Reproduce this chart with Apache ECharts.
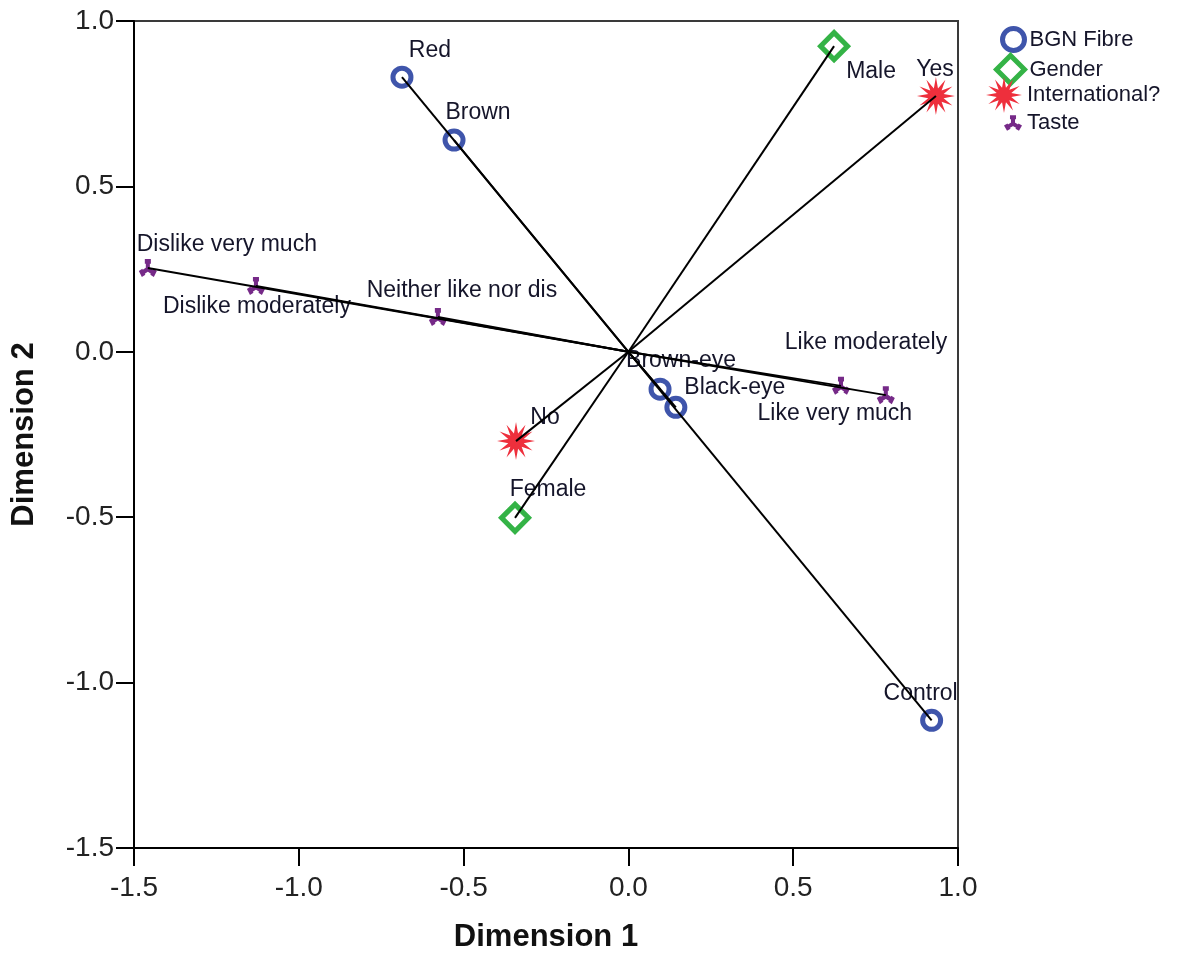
<!DOCTYPE html>
<html>
<head>
<meta charset="utf-8">
<script src="https://cdn.jsdelivr.net/npm/echarts@6/dist/echarts.min.js"></script>
<style>
  html, body { margin: 0; padding: 0; background: #fff; }
  #chart { width: 1183px; height: 959px; }
</style>
</head>
<body>
<div id="chart"></div>
<script>
// Category quantifications (Dimension 1, Dimension 2) per variable
const bgnNames = ['Red', 'Brown', 'Brown-eye', 'Black-eye', 'Control'];
const bgnDim1 = [-0.687, -0.529, 0.096, 0.144, 0.920];
const bgnDim2 = [0.830, 0.640, -0.113, -0.168, -1.114];

const genderNames = ['Male', 'Female'];
const genderDim1 = [0.624, -0.344];
const genderDim2 = [0.924, -0.502];

const intlNames = ['Yes', 'No'];
const intlDim1 = [0.933, -0.341];
const intlDim2 = [0.773, -0.270];

const tasteNames = ['Dislike very much', 'Dislike moderately', 'Neither like nor dis', 'Like moderately', 'Like very much'];
const tasteDim1 = [-1.458, -1.130, -0.578, 0.645, 0.781];
const tasteDim2 = [0.253, 0.199, 0.105, -0.103, -0.131];

const seriesNames = ['BGN Fibre', 'Gender', 'International?', 'Taste'];
const axisTicks = [-1.5, -1.0, -0.5, 0.0, 0.5, 1.0];

// Label placement relative to each marker centre (px)
const labelOffsets = {
  'Red': [28, -27], 'Brown': [24, -27], 'Brown-eye': [21, -29], 'Black-eye': [59, -20],
  'Control': [-11, -27], 'Male': [37, 26], 'Female': [33, -28], 'Yes': [-1, -26], 'No': [29, -23],
  'Dislike very much': [79, -23], 'Dislike moderately': [1, 21], 'Neither like nor dis': [24, -26],
  'Like moderately': [25, -43], 'Like very much': [-51, 19]
};

const FONT = "'Liberation Sans', Arial, sans-serif";
const TEXT = '#15152a';

// 12-point star path
function starPath(points, inner) {
  let d = '';
  for (let i = 0; i < points * 2; i++) {
    const r = i % 2 === 0 ? 50 : 50 * inner;
    const a = -Math.PI / 2 + i * Math.PI / points;
    const x = (50 + r * Math.cos(a)).toFixed(2);
    const y = (50 + r * Math.sin(a)).toFixed(2);
    d += (i === 0 ? 'M' : 'L') + x + ' ' + y + ' ';
  }
  return 'path://' + d + 'Z';
}

// Three-armed marker: stem up, two feet down-left / down-right, each with a cap
function rectPoly(cx, cy, ang, len0, len1, half) {
  const ux = Math.cos(ang), uy = Math.sin(ang);
  const px = -uy, py = ux;
  const pts = [
    [cx + ux * len0 + px * half, cy + uy * len0 + py * half],
    [cx + ux * len1 + px * half, cy + uy * len1 + py * half],
    [cx + ux * len1 - px * half, cy + uy * len1 - py * half],
    [cx + ux * len0 - px * half, cy + uy * len0 - py * half]
  ];
  return 'M' + pts.map(p => p[0].toFixed(2) + ' ' + p[1].toFixed(2)).join(' L') + ' Z ';
}
function tastePath() {
  let d = '';
  const angs = [-Math.PI / 2, Math.PI * 5 / 6, Math.PI / 6];
  angs.forEach(a => {
    d += rectPoly(50, 55, a, 0, 40, 10);
    const tx = 50 + Math.cos(a) * 33, ty = 55 + Math.sin(a) * 33;
    d += rectPoly(tx, ty, a + Math.PI / 2, -15, 15, 10);
  });
  return 'path://' + d;
}

const STAR = starPath(12, 0.42);
const TASTE = tastePath();

function points(names, d1, d2) {
  return names.map((n, i) => ({
    name: n,
    value: [d1[i], d2[i]],
    label: { offset: labelOffsets[n] || [0, -24] }
  }));
}
function rays(names, d1, d2) {
  return names.map((n, i) => ({ coords: [[0, 0], [d1[i], d2[i]]] }));
}

const labelStyle = {
  show: true, position: 'inside', formatter: '{b}', opacity: 1,
  fontSize: 23, fontFamily: FONT, color: TEXT
};

const groups = [
  { name: seriesNames[0], names: bgnNames, d1: bgnDim1, d2: bgnDim2,
    symbol: 'circle', size: 18, item: { color: '#ffffff', borderColor: '#3f55ab', borderWidth: 5, opacity: 1 } },
  { name: seriesNames[1], names: genderNames, d1: genderDim1, d2: genderDim2,
    symbol: 'diamond', size: 27, item: { color: '#ffffff', borderColor: '#34b346', borderWidth: 5, opacity: 1 } },
  { name: seriesNames[2], names: intlNames, d1: intlDim1, d2: intlDim2,
    symbol: STAR, size: 38, item: { color: '#ee2f3c', opacity: 1 } },
  { name: seriesNames[3], names: tasteNames, d1: tasteDim1, d2: tasteDim2,
    symbol: TASTE, size: 18, item: { color: '#762a88', opacity: 1 } }
];

const series = [];
groups.forEach(g => {
  series.push({
    name: g.name, type: 'scatter', z: 2,
    symbol: g.symbol, symbolSize: g.size,
    itemStyle: g.item, label: labelStyle,
    emphasis: { disabled: true },
    data: points(g.names, g.d1, g.d2)
  });
});
groups.forEach(g => {
  series.push({
    type: 'lines', coordinateSystem: 'cartesian2d', z: 5, silent: true,
    lineStyle: { color: '#000', width: 2, opacity: 1 },
    data: rays(g.names, g.d1, g.d2)
  });
});

// One legend block per variable so each icon keeps its own size
const legendRows = [
  { top: 26, w: 22, h: 22 },
  { top: 53, w: 28, h: 28 },
  { top: 77, w: 36, h: 36 },
  { top: 112, w: 18, h: 18 }
];
const legends = legendRows.map((r, i) => ({
  orient: 'vertical', left: 1022 - r.w, top: r.top,
  itemWidth: r.w, itemHeight: r.h, padding: 0,
  data: [{ name: seriesNames[i], itemStyle: Object.assign({}, groups[i].item) }],
  textStyle: { fontSize: 22, fontFamily: FONT, color: TEXT }
}));

const axisCommon = {
  type: 'value', min: axisTicks[0], max: axisTicks[axisTicks.length - 1], interval: 0.5,
  axisLine: { show: true, onZero: false, lineStyle: { color: '#000', width: 2 } },
  axisTick: { show: true, length: 18, lineStyle: { color: '#000', width: 2 } },
  splitLine: { show: false },
  nameLocation: 'middle',
  nameTextStyle: { fontSize: 31, fontWeight: 'bold', fontFamily: FONT, color: '#111' }
};

const chart = echarts.init(document.getElementById('chart'), null, { renderer: 'canvas' });
chart.setOption({
  backgroundColor: '#fff',
  animation: false,
  grid: { left: 134, top: 21, right: 225, bottom: 111, show: true, borderColor: '#3a3a3a', borderWidth: 2 },
  legend: legends,
  xAxis: Object.assign({}, axisCommon, {
    name: 'Dimension 1', nameGap: 74,
    axisLabel: { margin: 26, fontSize: 28, fontFamily: FONT, color: '#222',
      formatter: v => v.toFixed(1) }
  }),
  yAxis: Object.assign({}, axisCommon, {
    name: 'Dimension 2', nameGap: 94,
    axisLabel: { margin: 20, fontSize: 28, fontFamily: FONT, color: '#222',
      formatter: v => v.toFixed(1) }
  }),
  series: series
});
</script>
</body>
</html>
